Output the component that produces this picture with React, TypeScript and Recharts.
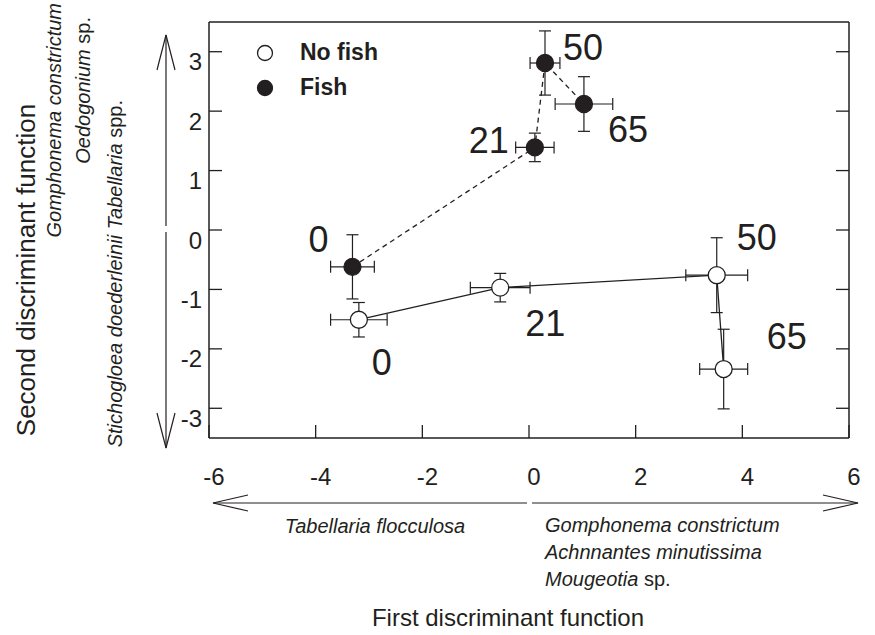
import React from "react";
import { ScatterChart, Scatter, XAxis, YAxis, ErrorBar, Legend } from "recharts";

const INK = "#231f20";
const FONT = "'Liberation Sans', Arial, Helvetica, sans-serif";

// sampling weeks (labels next to each point)
const weeks = [0, 21, 50, 65];

// No fish treatment
const noFishX = [-3.19, -0.54, 3.52, 3.65];
const noFishY = [-1.51, -0.97, -0.76, -2.34];
const noFishXErr = [0.53, 0.56, 0.58, 0.45];
const noFishYErr = [0.29, 0.24, 0.63, 0.67];

// Fish treatment
const fishX = [-3.31, 0.11, 0.3, 1.03];
const fishY = [-0.62, 1.39, 2.81, 2.12];
const fishXErr = [0.41, 0.36, 0.28, 0.54];
const fishYErr = [0.54, 0.24, 0.54, 0.46];

const xTicks = [-6, -4, -2, 0, 2, 4, 6];
const yTicks = [-3, -2, -1, 0, 1, 2, 3];

const legendItems = [
  { label: "No fish", filled: false },
  { label: "Fish", filled: true },
];

// where each week label sits relative to its point (px)
const noFishLabelOffset = [[23, 43], [45, 36], [40, -38], [63, -33]];
const fishLabelOffset = [[-34, -27], [-46, -7], [38, -16], [44, 25]];

const toRows = (xs: number[], ys: number[], exs: number[], eys: number[]) =>
  weeks.map((w, i) => ({ week: w, x: xs[i], y: ys[i], ex: exs[i], ey: eys[i] }));

const noFishData = toRows(noFishX, noFishY, noFishXErr, noFishYErr);
const fishData = toRows(fishX, fishY, fishXErr, fishYErr);

const makeShape = (filled: boolean, offsets: number[][]) => (props: any) => {
  const { cx, cy, payload } = props;
  const i = weeks.indexOf(payload.week);
  const [dx, dy] = offsets[i] || [0, 0];
  return (
    <g>
      <circle cx={cx} cy={cy} r={8.5} fill={filled ? INK : "#fff"} stroke={INK} strokeWidth={1.3} />
      <text
        x={cx + dx}
        y={cy + dy}
        textAnchor="middle"
        dominantBaseline="central"
        fontSize={36}
        fontFamily={FONT}
        fill={INK}
      >
        {payload.week}
      </text>
    </g>
  );
};

const BottomTick = (p: any) => (
  <g>
    <line x1={p.x} y1={p.y} x2={p.x} y2={p.y - 13} stroke={INK} strokeWidth={1.3} />
    <text x={p.x + 5} y={p.y + 38} textAnchor="middle" dominantBaseline="central" fontSize={24} fontFamily={FONT} fill={INK}>
      {p.payload.value}
    </text>
  </g>
);

const TopTick = (p: any) => (
  <line x1={p.x} y1={p.y} x2={p.x} y2={p.y + 13} stroke={INK} strokeWidth={1.3} />
);

const LeftTick = (p: any) => (
  <g>
    <line x1={p.x} y1={p.y} x2={p.x + 13} y2={p.y} stroke={INK} strokeWidth={1.3} />
    <text x={p.x - 7} y={p.y + 10} textAnchor="end" dominantBaseline="central" fontSize={24} fontFamily={FONT} fill={INK}>
      {p.payload.value}
    </text>
  </g>
);

const RightTick = (p: any) => (
  <line x1={p.x} y1={p.y} x2={p.x - 13} y2={p.y} stroke={INK} strokeWidth={1.3} />
);

const LegendBox = () => (
  <div style={{ fontFamily: FONT, color: INK }}>
    {legendItems.map((it) => (
      <div key={it.label} style={{ display: "flex", alignItems: "center", height: 35 }}>
        <svg width={18} height={18} style={{ display: "block" }}>
          <circle cx={9} cy={9} r={7.5} fill={it.filled ? INK : "#fff"} stroke={INK} strokeWidth={1.3} />
        </svg>
        <span style={{ marginLeft: 26, fontSize: 23, fontWeight: 700, lineHeight: "35px" }}>{it.label}</span>
      </div>
    ))}
  </div>
);

const axisLine = { stroke: INK, strokeWidth: 1.5 };

const Annotations = () => (
  <svg
    width={875}
    height={635}
    style={{ position: "absolute", left: 0, top: 0, pointerEvents: "none" }}
    fontFamily={FONT}
    fill={INK}
  >
    <g stroke={INK} strokeWidth={1.2} fill="none">
      {/* vertical arrows */}
      <line x1={166} y1={35} x2={166} y2={226} />
      <line x1={166} y1={232} x2={166} y2={448} />
      <polyline points="157,70 166,35 175,70" />
      <polyline points="157,413 166,448 175,413" />
      {/* horizontal arrows */}
      <line x1={213} y1={503} x2={527} y2={503} />
      <line x1={532} y1={503} x2={858} y2={503} />
      <polyline points="248,495 213,503 248,511" />
      <polyline points="823,495 858,503 823,511" />
    </g>
    <text transform="translate(35,270) rotate(-90)" textAnchor="middle" fontSize={26}>
      Second discriminant function
    </text>
    <text transform="translate(61,3) rotate(-90)" textAnchor="end" fontSize={20} fontStyle="italic">
      Gomphonema constrictum
    </text>
    <text transform="translate(90,17) rotate(-90)" textAnchor="end" fontSize={20}>
      <tspan fontStyle="italic">Oedogonium</tspan> sp.
    </text>
    <text transform="translate(122,100) rotate(-90)" textAnchor="end" fontSize={20}>
      <tspan fontStyle="italic">Stichogloea doederleinii</tspan>{"  "}
      <tspan fontStyle="italic">Tabellaria</tspan> spp.
    </text>
    <text x={375} y={533} textAnchor="middle" fontSize={20} fontStyle="italic">
      Tabellaria flocculosa
    </text>
    <text x={545} y={532} fontSize={20} fontStyle="italic">
      Gomphonema constrictum
    </text>
    <text x={545} y={559} fontSize={20} fontStyle="italic">
      Achnnantes minutissima
    </text>
    <text x={545} y={586} fontSize={20}>
      <tspan fontStyle="italic">Mougeotia</tspan> sp.
    </text>
    <text x={508} y={626} textAnchor="middle" fontSize={24}>
      First discriminant function
    </text>
  </svg>
);

export default function App() {
  return (
    <div style={{ position: "absolute", left: 0, top: 0, width: 875, height: 635, background: "#fff" }}>
      <ScatterChart width={875} height={635} margin={{ top: 12, right: 6, bottom: 167, left: 149 }}>
        <XAxis
          xAxisId="b"
          type="number"
          dataKey="x"
          domain={[-6, 6]}
          ticks={xTicks}
          interval={0}
          allowDataOverflow
          height={30}
          tickSize={0}
          tickMargin={0}
          tickLine={false}
          axisLine={axisLine}
          tick={<BottomTick />}
        />
        <XAxis
          xAxisId="t"
          orientation="top"
          type="number"
          domain={[-6, 6]}
          ticks={xTicks}
          interval={0}
          allowDataOverflow
          height={10}
          tickSize={0}
          tickMargin={0}
          tickLine={false}
          axisLine={axisLine}
          tick={<TopTick />}
        />
        <YAxis
          yAxisId="l"
          type="number"
          dataKey="y"
          domain={[-3.5, 3.5]}
          ticks={yTicks}
          interval={0}
          allowDataOverflow
          width={60}
          tickSize={0}
          tickMargin={0}
          tickLine={false}
          axisLine={axisLine}
          tick={<LeftTick />}
        />
        <YAxis
          yAxisId="r"
          orientation="right"
          type="number"
          domain={[-3.5, 3.5]}
          ticks={yTicks}
          interval={0}
          allowDataOverflow
          width={20}
          tickSize={0}
          tickMargin={0}
          tickLine={false}
          axisLine={axisLine}
          tick={<RightTick />}
        />
        <Legend
          layout="vertical"
          align="center"
          verticalAlign="middle"
          wrapperStyle={{ position: "absolute", left: 256, top: 35, width: 160, height: 70 }}
          content={() => <LegendBox />}
        />
        <Scatter
          name="No fish"
          data={noFishData}
          xAxisId="b"
          yAxisId="l"
          line={{ stroke: INK, strokeWidth: 1.3 }}
          shape={makeShape(false, noFishLabelOffset)}
          isAnimationActive={false}
        >
          <ErrorBar dataKey="ex" direction="x" width={6} stroke={INK} strokeWidth={1.2} />
          <ErrorBar dataKey="ey" direction="y" width={6} stroke={INK} strokeWidth={1.2} />
        </Scatter>
        <Scatter
          name="Fish"
          data={fishData}
          xAxisId="b"
          yAxisId="l"
          line={{ stroke: INK, strokeWidth: 1.3, strokeDasharray: "5 4" }}
          shape={makeShape(true, fishLabelOffset)}
          isAnimationActive={false}
        >
          <ErrorBar dataKey="ex" direction="x" width={6} stroke={INK} strokeWidth={1.2} />
          <ErrorBar dataKey="ey" direction="y" width={6} stroke={INK} strokeWidth={1.2} />
        </Scatter>
      </ScatterChart>
      <Annotations />
    </div>
  );
}
